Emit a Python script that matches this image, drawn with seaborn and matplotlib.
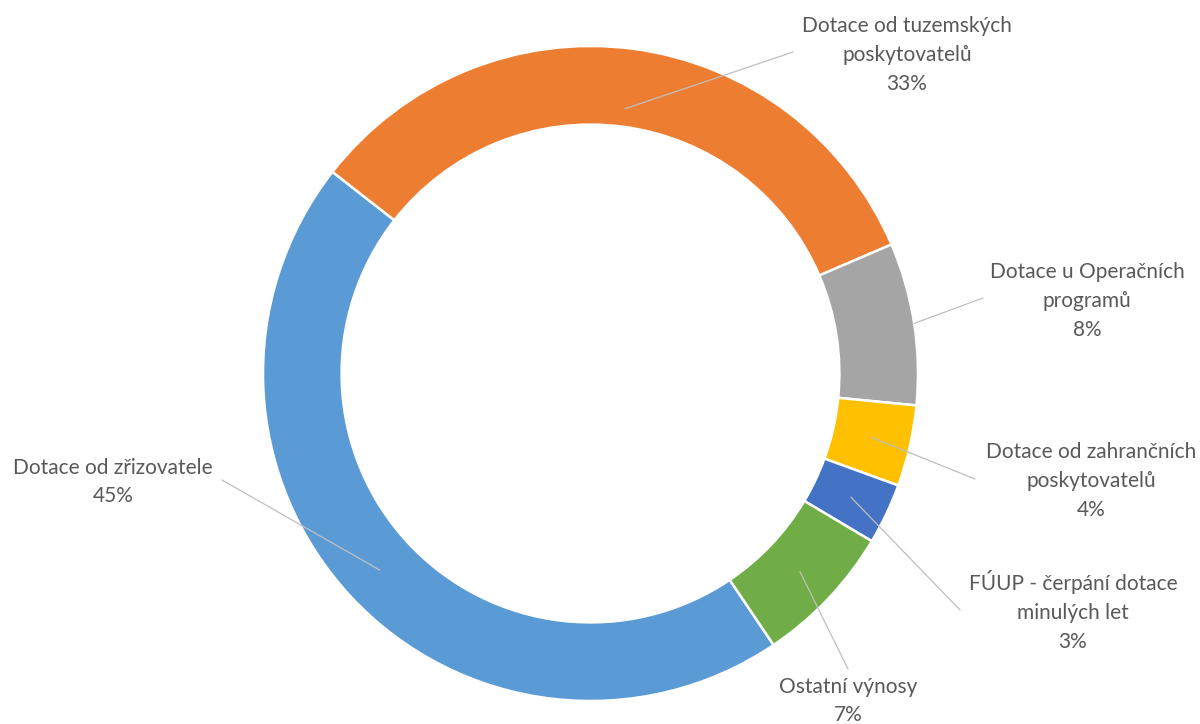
import numpy as np
import matplotlib
matplotlib.use("Agg")
import matplotlib.pyplot as plt
import seaborn as sns

# data
categories = ["Dotace od zřizovatele", "Dotace od tuzemských\nposkytovatelů",
              "Dotace u Operačních\nprogramů", "Dotace od zahrančních\nposkytovatelů",
              "FÚUP - čerpání dotace\nminulých let", "Ostatní výnosy"]
shares = [45, 33, 8, 4, 3, 7]
colors = ["#5B9BD5", "#ED7D31", "#A5A5A5", "#FFC000", "#4472C4", "#70AD47"]

# label layout (pixel positions, origin top-left)
label_xy = [(113, 482), (907, 55), (1087, 301), (1091, 481), (1073, 611), (848, 701)]
leader_end = [(222, 480), (793, 52), (983, 298), (975, 479), (960, 610), (848, 669)]
leader_r = [0.88, 0.815, 1.0, 0.88, 0.88, 0.88]

W, H = 1200, 724
sns.set_theme(style="white")
plt.rcParams['font.family'] = ['Lato', 'DejaVu Sans']

fig = plt.figure(figsize=(12, 7.24), dpi=100)
ax = fig.add_axes([0, 0, 1, 1])

cx, cy, R = 590.5, H - 373.5, 327.5
wedges, _ = ax.pie(shares, colors=colors, startangle=-56, counterclock=False,
                   center=(cx, cy), radius=R,
                   wedgeprops=dict(width=R * 0.24, edgecolor="white", linewidth=1.8))

ax.set_xlim(0, W)
ax.set_ylim(0, H)
ax.set_aspect("equal")
ax.axis("off")

for w, cat, val, (lx, ly), (ex, ey), fr in zip(wedges, categories, shares,
                                                label_xy, leader_end, leader_r):
    mid = np.deg2rad((w.theta1 + w.theta2) / 2)
    sx, sy = cx + R * fr * np.cos(mid), cy + R * fr * np.sin(mid)
    ax.plot([sx, ex], [sy, H - ey], color="#BFBFBF", lw=0.9, zorder=3)
    ax.text(lx, H - ly, f"{cat}\n{val}%", ha="center", va="center",
            fontsize=15, color="#595959", linespacing=1.55)

fig.savefig("out.png", dpi=100, facecolor="white")
